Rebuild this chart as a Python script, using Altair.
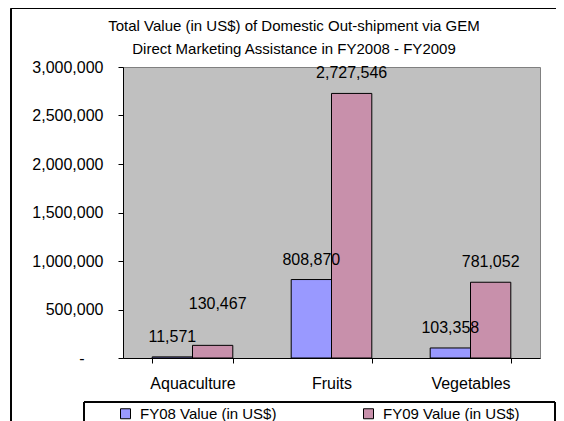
import altair as alt
import pandas as pd

categories = ["Aquaculture", "Fruits", "Vegetables"]
fy08 = [11571, 808870, 103358]
fy09 = [130467, 2727546, 781052]
series_names = ["FY08 Value (in US$)", "FY09 Value (in US$)"]
title_lines = ["Total Value (in US$) of Domestic Out-shipment via GEM",
               "Direct Marketing Assistance in FY2008 - FY2009"]

rows = []
for c, a, b in zip(categories, fy08, fy09):
    rows.append({"cat": c, "series": series_names[0], "value": a})
    rows.append({"cat": c, "series": series_names[1], "value": b})
df = pd.DataFrame(rows)
df["label"] = df["value"].map(lambda v: f"{v:,}")

FONT = "Liberation Sans"
FS = 16

x_enc = alt.X("cat:N", sort=categories,
              scale=alt.Scale(paddingInner=0.42, paddingOuter=0.21),
              axis=alt.Axis(title=None, labelAngle=0, labelFontSize=FS, labelFont=FONT,
                            labelColor="black", labelPadding=12, tickBand="extent",
                            tickSize=5, tickColor="black", domainColor="black"))
xoff = alt.XOffset("series:N", sort=series_names, scale=alt.Scale(paddingInner=0, paddingOuter=0))
y_enc = alt.Y("value:Q", scale=alt.Scale(domain=[0, 3000000]),
              axis=alt.Axis(title=None, values=[0, 500000, 1000000, 1500000, 2000000, 2500000, 3000000],
                            labelExpr="datum.value == 0 ? '-' : format(datum.value, ',')",
                            labelFontSize=FS, labelFont=FONT, labelColor="black",
                            labelPadding={"condition": {"test": "datum.value === 0", "value": 34}, "value": 15},
                            tickSize=5, tickColor="black",
                            domainColor="black", grid=False))

color = alt.Color("series:N", sort=series_names,
                  scale=alt.Scale(domain=series_names, range=["#9999FF", "#C890AB"]),
                  legend=alt.Legend(title=None, orient="none", direction="horizontal",
                                    legendX=-5, legendY=339, padding=0,
                                    symbolType="square", symbolSize=100,
                                    symbolStrokeColor="black", symbolStrokeWidth=1,
                                    symbolOpacity=1,
                                    labelFontSize=15, labelFont=FONT, labelColor="black",
                                    labelOffset=7, columnPadding=84, labelLimit=300))

bars = alt.Chart(df).mark_bar(stroke="black", strokeWidth=1, opacity=1).encode(
    x=x_enc, xOffset=xoff, y=y_enc, color=color)

labels = alt.Chart(df).transform_filter(
    "!(datum.cat == 'Aquaculture' && datum.value > 100000)"
).mark_text(font=FONT, fontSize=FS, color="black", dy=-15, baseline="alphabetic").encode(
    x=alt.X("cat:N", sort=categories), xOffset=alt.XOffset("series:N", sort=series_names),
    y="value:Q", text="label:N")

labels_raised = alt.Chart(df).transform_filter(
    "datum.cat == 'Aquaculture' && datum.value > 100000"
).mark_text(font=FONT, fontSize=FS, color="black", dy=-36, dx=5, baseline="alphabetic").encode(
    x=alt.X("cat:N", sort=categories), xOffset=alt.XOffset("series:N", sort=series_names),
    y="value:Q", text="label:N")

title_df = pd.DataFrame({"line": title_lines, "order": [0, 1]})
title = alt.Chart(title_df).transform_calculate(
    ty="-41 + datum.order * 23"
).mark_text(font=FONT, fontSize=15, color="black", baseline="middle", align="center").encode(
    x=alt.value(171), y=alt.Y("ty:Q", scale=None), text="line:N")

frame = alt.Chart(df).mark_rect(fill=None, stroke="black", strokeWidth=1).encode(
    x=alt.value(-112), x2=alt.value(470), y=alt.value(-58.5), y2=alt.value(420))

legend_box = alt.Chart(df).mark_rect(fill=None, stroke="black", strokeWidth=1).encode(
    x=alt.value(-39), x2=alt.value(432), y=alt.value(335), y2=alt.value(400))

chart = alt.layer(frame, legend_box, bars, labels, labels_raised, title).properties(
    width=417, height=291,
    autosize=alt.AutoSizeParams(type="none"),
    padding={"left": 115, "top": 59, "right": 16, "bottom": 63},
    background="white",
).configure_view(fill="#C0C0C0", stroke="#808080", strokeWidth=1)

chart.save("out.html", embed_options={"renderer": "svg", "actions": False})
